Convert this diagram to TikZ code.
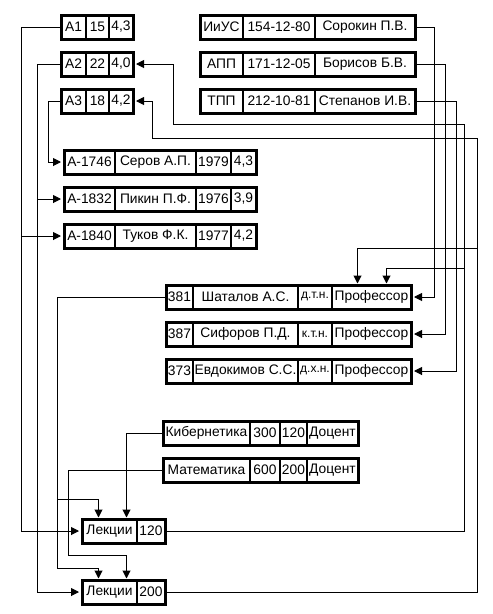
\documentclass[tikz,border=0pt]{standalone}
\usepackage{fontspec}
\setmainfont{Liberation Sans}
\usetikzlibrary{arrows.meta, positioning, fit}

\begin{document}
\begin{tikzpicture}[x=1pt, y=-1pt,
    cell/.style={draw, line width=1pt, minimum height=23pt, inner xsep=0.5pt, inner ysep=1pt, font=\fontsize{13.8}{15}\selectfont},
    degree/.style={font=\fontsize{12}{13}\selectfont},
    rec/.style={draw, line width=3pt, inner sep=0pt},
    arr/.style={line width=1pt, shorten >=1.5pt, -{Triangle[length=8pt, width=8pt]}}]
    \useasboundingbox (0,0) rectangle (493,614);

    % Groups
    \node[cell, minimum width=24pt, anchor=west] (a1n) at (61,27) {А1};
    \node[cell, minimum width=22pt, right=0pt of a1n] (a1s) {15};
    \node[cell, minimum width=23pt, right=0pt of a1s] (a1m) {4,3};
    \node[rec, fit=(a1n)(a1m)] (a1) {};
    \node[cell, minimum width=24pt, anchor=west] (a2n) at (61,64) {А2};
    \node[cell, minimum width=22pt, right=0pt of a2n] (a2s) {22};
    \node[cell, minimum width=23pt, right=0pt of a2s] (a2m) {4,0};
    \node[rec, fit=(a2n)(a2m)] (a2) {};
    \node[cell, minimum width=24pt, anchor=west] (a3n) at (61,101) {А3};
    \node[cell, minimum width=22pt, right=0pt of a3n] (a3s) {18};
    \node[cell, minimum width=23pt, right=0pt of a3s] (a3m) {4,2};
    \node[rec, fit=(a3n)(a3m)] (a3) {};

    % Departments
    \node[cell, minimum width=42pt, anchor=west] (d1n) at (200,27) {ИиУС};
    \node[cell, minimum width=71pt, right=0pt of d1n] (d1t) {154-12-80};
    \node[cell, minimum width=99pt, right=0pt of d1t] (d1h) {Сорокин П.В.};
    \node[rec, fit=(d1n)(d1h)] (d1) {};
    \node[cell, minimum width=42pt, anchor=west] (d2n) at (200,64) {АПП};
    \node[cell, minimum width=71pt, right=0pt of d2n] (d2t) {171-12-05};
    \node[cell, minimum width=99pt, right=0pt of d2t] (d2h) {Борисов Б.В.};
    \node[rec, fit=(d2n)(d2h)] (d2) {};
    \node[cell, minimum width=42pt, anchor=west] (d3n) at (200,101) {ТПП};
    \node[cell, minimum width=71pt, right=0pt of d3n] (d3t) {212-10-81};
    \node[cell, minimum width=99pt, right=0pt of d3t] (d3h) {Степанов И.В.};
    \node[rec, fit=(d3n)(d3h)] (d3) {};

    % Students
    \node[cell, minimum width=50pt, anchor=west] (s1a) at (64,162) {А-1746};
    \node[cell, minimum width=80pt, right=0pt of s1a] (s1b) {Серов А.П.};
    \node[cell, minimum width=34pt, right=0pt of s1b] (s1c) {1979};
    \node[cell, minimum width=24pt, right=0pt of s1c] (s1d) {4,3};
    \node[rec, fit=(s1a)(s1d)] (s1) {};
    \node[cell, minimum width=50pt, anchor=west] (s2a) at (64,199) {А-1832};
    \node[cell, minimum width=80pt, right=0pt of s2a] (s2b) {Пикин П.Ф.};
    \node[cell, minimum width=34pt, right=0pt of s2b] (s2c) {1976};
    \node[cell, minimum width=24pt, right=0pt of s2c] (s2d) {3,9};
    \node[rec, fit=(s2a)(s2d)] (s2) {};
    \node[cell, minimum width=50pt, anchor=west] (s3a) at (64,236) {А-1840};
    \node[cell, minimum width=80pt, right=0pt of s3a] (s3b) {Туков Ф.К.};
    \node[cell, minimum width=34pt, right=0pt of s3b] (s3c) {1977};
    \node[cell, minimum width=24pt, right=0pt of s3c] (s3d) {4,2};
    \node[rec, fit=(s3a)(s3d)] (s3) {};

    % Teachers
    \node[cell, minimum width=26pt, anchor=west] (p1a) at (166,297) {381};
    \node[cell, minimum width=104pt, right=0pt of p1a] (p1b) {Шаталов А.С.};
    \node[cell, degree, minimum width=33pt, right=0pt of p1b] (p1c) {д.т.н.};
    \node[cell, minimum width=78pt, right=0pt of p1c] (p1d) {Профессор};
    \node[rec, fit=(p1a)(p1d)] (p1) {};
    \node[cell, minimum width=26pt, anchor=west] (p2a) at (166,334) {387};
    \node[cell, minimum width=104pt, right=0pt of p2a] (p2b) {Сифоров П.Д.};
    \node[cell, degree, minimum width=33pt, right=0pt of p2b] (p2c) {к.т.н.};
    \node[cell, minimum width=78pt, right=0pt of p2c] (p2d) {Профессор};
    \node[rec, fit=(p2a)(p2d)] (p2) {};
    \node[cell, minimum width=26pt, anchor=west] (p3a) at (166,371) {373};
    \node[cell, minimum width=104pt, right=0pt of p3a] (p3b) {Евдокимов С.С.};
    \node[cell, degree, minimum width=33pt, right=0pt of p3b] (p3c) {д.х.н.};
    \node[cell, minimum width=78pt, right=0pt of p3c] (p3d) {Профессор};
    \node[rec, fit=(p3a)(p3d)] (p3) {};

    % Subjects
    \node[cell, minimum width=86pt, anchor=west] (c1a) at (163,433) {Кибернетика};
    \node[cell, minimum width=29pt, right=0pt of c1a] (c1b) {300};
    \node[cell, minimum width=26pt, right=0pt of c1b] (c1c) {120};
    \node[cell, minimum width=50pt, right=0pt of c1c] (c1d) {Доцент};
    \node[rec, fit=(c1a)(c1d)] (c1) {};
    \node[cell, minimum width=86pt, anchor=west] (c2a) at (163,470) {Математика};
    \node[cell, minimum width=29pt, right=0pt of c2a] (c2b) {600};
    \node[cell, minimum width=26pt, right=0pt of c2b] (c2c) {200};
    \node[cell, minimum width=50pt, right=0pt of c2c] (c2d) {Доцент};
    \node[rec, fit=(c2a)(c2d)] (c2) {};

    % Lectures
    \node[cell, minimum width=54pt, anchor=west] (l1a) at (82,531) {Лекции};
    \node[cell, minimum width=27pt, right=0pt of l1a] (l1b) {120};
    \node[rec, fit=(l1a)(l1b)] (l1) {};
    \node[cell, minimum width=54pt, anchor=west] (l2a) at (82,592) {Лекции};
    \node[cell, minimum width=27pt, right=0pt of l2a] (l2b) {200};
    \node[rec, fit=(l2a)(l2b)] (l2) {};

    % Junctions
    \coordinate (j1) at (477,248);
    \coordinate (j2) at (464,268);
    \coordinate (j3) at (57,499);

    % Groups -> students, lectures
    \draw[arr] (a1.west) -- ++(-38,0) |- (s3.west);
    \draw[arr] (a1.west) -- ++(-38,0) |- (l1.west);
    \draw[arr] (a2.west) -- ++(-22,0) |- (s2.west);
    \draw[arr] (a2.west) -- ++(-22,0) |- (l2.west);
    \draw[arr] (a3.west) -- ++(-11,0) |- (s1.west);

    % Lectures -> groups, teachers
    \draw[arr] (l1.east) -| (464,124) -| (173,64) -- (a2.east);
    \draw[arr] (l2.east) -| (477,138) -| (152,101) -- (a3.east);
    \draw[arr] (j1) -| ([xshift=-14pt]p1d.north);
    \draw[arr] (j2) -| ([xshift=15pt]p1d.north);

    % Departments -> teachers
    \draw[arr] (d1.east) -- ++(18,0) |- (p1.east);
    \draw[arr] (d2.east) -- ++(29,0) |- (p2.east);
    \draw[arr] (d3.east) -- ++(40,0) |- (p3.east);

    % Teacher, subjects -> lectures
    \draw[arr] (p1.west) -| (57,568) -| ([xshift=-11pt]l2a.north);
    \draw[arr] (j3) -| ([xshift=-11pt]l1a.north);
    \draw[arr] (c1.west) -| ([xshift=17pt]l1a.north);
    \draw[arr] (c2.west) -| (68,555) -| ([xshift=17pt]l2a.north);
\end{tikzpicture}
\end{document}
